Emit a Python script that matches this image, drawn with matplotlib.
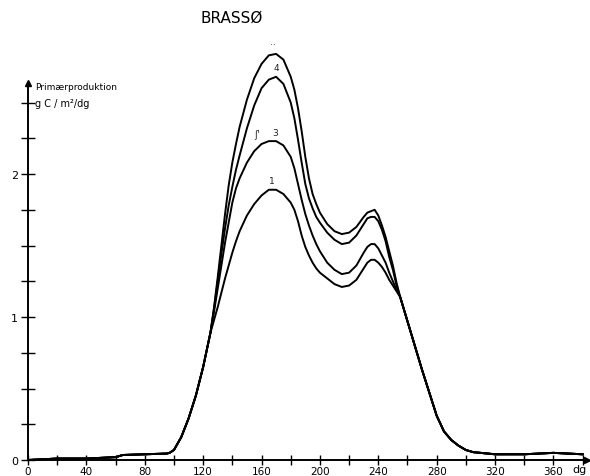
import numpy as np
import matplotlib
matplotlib.use("Agg")
import matplotlib.pyplot as plt

# ============================================================
# Data
# ============================================================

# shared rising foot and falling tail (all curves coincide there)
X_FOOT = [0, 20, 40, 60, 65, 80, 95, 97, 100, 105, 110, 115, 120, 122.5, 125]
Y_FOOT = [0.0, 0.01, 0.01, 0.02, 0.035, 0.04, 0.045, 0.05, 0.07, 0.16, 0.29, 0.45,
          0.65, 0.77, 0.89]

X_TAIL = [255, 260, 265, 270, 275, 280, 285, 290, 295, 300, 305, 320, 340, 360, 380]
Y_TAIL = [1.14, 0.97, 0.80, 0.63, 0.47, 0.31, 0.20, 0.14, 0.10, 0.07, 0.055, 0.04,
          0.04, 0.05, 0.04]

# middle section, one series per curve
X_MID = [127.5, 130, 132.5, 135, 137.5, 140, 142.5, 145, 150, 155, 160, 165, 170,
         175, 180, 182.5, 185, 187.5, 190, 192.5, 195, 197.5, 200, 205, 210, 215,
         220, 225, 230, 232.5, 235, 237.5, 240, 242.5, 245, 247.5, 250, 252.5]

CURVE_1 = [0.98, 1.07, 1.17, 1.27, 1.36, 1.45, 1.53, 1.60, 1.71, 1.79, 1.85, 1.89, 1.89,
           1.86, 1.80, 1.75, 1.67, 1.57, 1.49, 1.43, 1.38, 1.34, 1.31, 1.27, 1.23, 1.21,
           1.22, 1.26, 1.34, 1.38, 1.40, 1.40, 1.38, 1.35, 1.31, 1.26, 1.22, 1.18]
CURVE_3 = [1.04, 1.20, 1.36, 1.52, 1.66, 1.80, 1.90, 1.97, 2.08, 2.16, 2.21, 2.23, 2.23,
           2.20, 2.12, 2.04, 1.93, 1.82, 1.72, 1.64, 1.57, 1.51, 1.46, 1.38, 1.33, 1.30,
           1.31, 1.36, 1.45, 1.49, 1.51, 1.51, 1.48, 1.43, 1.38, 1.31, 1.25, 1.19]
CURVE_4 = [1.06, 1.25, 1.44, 1.62, 1.78, 1.91, 2.03, 2.13, 2.32, 2.48, 2.60, 2.66, 2.68,
           2.63, 2.50, 2.39, 2.24, 2.08, 1.93, 1.83, 1.76, 1.70, 1.66, 1.59, 1.54, 1.51,
           1.52, 1.57, 1.65, 1.69, 1.70, 1.70, 1.67, 1.61, 1.53, 1.42, 1.33, 1.22]
CURVE_5 = [1.07, 1.28, 1.50, 1.72, 1.92, 2.08, 2.21, 2.33, 2.52, 2.67, 2.77, 2.83, 2.84,
           2.80, 2.68, 2.59, 2.46, 2.30, 2.12, 1.97, 1.86, 1.79, 1.73, 1.65, 1.60, 1.58,
           1.59, 1.63, 1.70, 1.73, 1.74, 1.75, 1.71, 1.64, 1.56, 1.46, 1.36, 1.24]

CURVES = [CURVE_1, CURVE_3, CURVE_4, CURVE_5]

# curve labels drawn above each peak (x, y, text)
CURVE_LABELS = [(167, 1.92, "1"), (169, 2.26, "3"), (170, 2.71, "4"), (168, 2.87, "··")]

X_TICKS = np.arange(0, 381, 20)
X_TICK_LABELS = [str(v) if v % 40 == 0 else "" for v in X_TICKS]
Y_TICKS = np.arange(0, 2.51, 0.25)
Y_TICK_LABELS = ["0" if v == 0 else ("1" if v == 1 else ("2" if v == 2 else "")) for v in Y_TICKS]


# ============================================================
# Plot
# ============================================================

fig = plt.figure(figsize=(5.9, 4.77), dpi=100)
ax = fig.add_axes([28 / 590, 16 / 477, 559 / 590, 377.5 / 477])

xs = X_FOOT + X_MID + X_TAIL
for ys in CURVES:
    yy = Y_FOOT + ys + Y_TAIL
    ax.plot(xs, yy, color="black", lw=1.4, clip_on=False,
            solid_joinstyle="round")

for x, y, t in CURVE_LABELS:
    ax.text(x, y, t, fontsize=6.5, ha="center", va="bottom", color="#222222")
ax.text(157, 2.28, "ʃ'", fontsize=7, ha="center", va="center", color="#333333")

ax.set_xlim(0, 383)
ax.set_ylim(0, 2.64)

for side in ["top", "right"]:
    ax.spines[side].set_visible(False)
ax.spines["left"].set_linewidth(1.4)
ax.spines["bottom"].set_linewidth(1.4)

# arrow heads on the axes
ax.plot(1, 0, ">k", ms=5, transform=ax.transAxes, clip_on=False)
ax.plot(0, 1, "^k", ms=5, transform=ax.transAxes, clip_on=False)

ax.set_xticks(X_TICKS)
ax.set_xticklabels(X_TICK_LABELS)
ax.set_yticks(Y_TICKS)
ax.set_yticklabels(Y_TICK_LABELS)
ax.tick_params(axis="x", direction="inout", length=7, width=1.0,
               labelsize=7.5, pad=1)
ax.tick_params(axis="y", direction="inout", length=10, width=1.0,
               labelsize=8, pad=2)

ax.text(1.0, -0.01, "dg", transform=ax.transAxes, fontsize=8,
        ha="right", va="top")
ax.text(0.012, 0.99, "Primærproduktion", transform=ax.transAxes,
        fontsize=6.5, ha="left", va="center")
ax.text(0.012, 0.945, "g C / m²/dg", transform=ax.transAxes,
        fontsize=7, ha="left", va="center")

fig.text(232 / 590, 1 - 18 / 477, "BRASSØ", fontsize=11, ha="center", va="center")

fig.savefig("out.png", dpi=100)
